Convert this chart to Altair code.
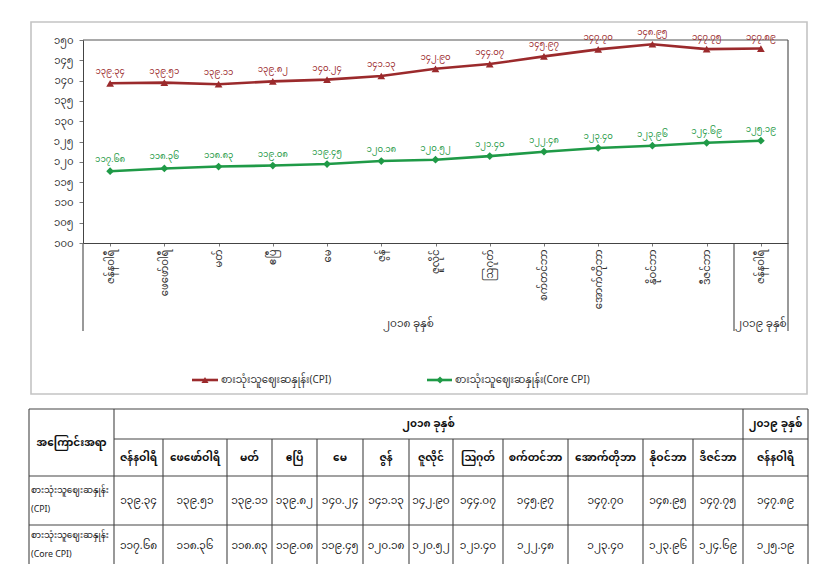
import json
import altair as alt
import pandas as pd

# ---------------- data ----------------
MY = str.maketrans("0123456789", "၀၁၂၃၄၅၆၇၈၉")

months = ["ဇန်နဝါရီ", "ဖေဖော်ဝါရီ", "မတ်", "ဧပြီ", "မေ", "ဇွန်", "ဇူလိုင်",
          "ဩဂုတ်", "စက်တင်ဘာ", "အောက်တိုဘာ", "နိုဝင်ဘာ", "ဒီဇင်ဘာ", "ဇန်နဝါရီ"]
years = ["၂၀၁၈ ခုနှစ်", "၂၀၁၉ ခုနှစ်"]
months_per_year = [12, 1]
cpi = [139.34, 139.51, 139.11, 139.82, 140.24, 141.13, 142.90,
       144.07, 145.97, 147.70, 148.95, 147.75, 147.89]
core = [117.68, 118.36, 118.83, 119.08, 119.45, 120.18, 120.52,
        121.40, 122.48, 123.40, 123.96, 124.69, 125.19]
series_names = ["စားသုံးသူဈေးဆနှုန်း(CPI)", "စားသုံးသူဈေးဆနှုန်း(Core CPI)"]
row_titles = [["စားသုံးသူဈေးဆနှုန်း", "(CPI)"], ["စားသုံးသူဈေးဆနှုန်း", "(Core CPI)"]]
header_title = "အကြောင်းအရာ"
y_ticks = [100, 105, 110, 115, 120, 125, 130, 135, 140, 145, 150]

# ---------------- style / layout ----------------
FONT = "Noto Sans Myanmar, Padauk, Myanmar Text, Noto Sans, DejaVu Sans, sans-serif"
RED = "#9b2a2c"
GREEN = "#1f9a47"
W, H = 840, 564
PX0, PX1, PY0, PY1 = 83, 788, 40, 243     # plot area
DIV_X = 734                               # divider between years
AX_BOTTOM = 331
TBL_LEFT = 29
col_widths = [85, 49, 64, 45, 45, 46, 46, 44, 50, 65, 75, 50, 50, 65]
row_heights = [30, 37, 49, 42]
TBL_TOP = 409

def my(s):
    return str(s).translate(MY)

rows = []
for i in range(len(months)):
    rows.append({"idx": i, "value": cpi[i], "series": series_names[0], "label": my(f"{cpi[i]:.2f}")})
    rows.append({"idx": i, "value": core[i], "series": series_names[1], "label": my(f"{core[i]:.2f}")})
df = pd.DataFrame(rows)

digit_expr = "datum.label"
for d in "0123456789":
    digit_expr = f"replace({digit_expr}, regexp('{d}', 'g'), '{my(d)}')"
month_expr = json.dumps(months, ensure_ascii=False) + "[datum.value]"

x_enc = alt.X(
    "idx:O",
    scale=alt.Scale(type="point", padding=0.5, range=[PX0, PX1]),
    axis=alt.Axis(title=None, orient="bottom", offset=PY1 - H, labelExpr=month_expr,
                  labelAngle=270, labelAlign="right", labelBaseline="middle",
                  labelPadding=3, tickSize=3, domainColor="#444", tickColor="#777",
                  labelFont=FONT, labelFontSize=10, labelColor="#333", grid=False, zindex=2),
)
y_enc = alt.Y(
    "value:Q",
    scale=alt.Scale(domain=[100, 150], range=[PY1, PY0], nice=False, zero=False),
    axis=alt.Axis(title=None, orient="left", offset=-PX0, values=y_ticks, labelExpr=digit_expr,
                  tickSize=4, labelPadding=6, domainColor="#444", tickColor="#777",
                  labelFont=FONT, labelFontSize=10, labelColor="#333", grid=False, zindex=2),
)
color_enc = alt.Color("series:N", scale=alt.Scale(domain=series_names, range=[RED, GREEN]), legend=None)

base = alt.Chart(df)
line = base.mark_line(strokeWidth=2.6).encode(x=x_enc, y=y_enc, color=color_enc)
points = base.mark_point(filled=True, size=60, opacity=1).encode(
    x=x_enc, y=y_enc, color=color_enc,
    shape=alt.Shape("series:N", scale=alt.Scale(domain=series_names, range=["triangle-up", "diamond"]), legend=None),
)
labels = base.mark_text(dy=-12, fontSize=8.5, font=FONT).encode(
    x=x_enc, y=y_enc, color=color_enc, text="label:N")
line_chart = alt.layer(line, points, labels)

# ---------------- segments (frames, table grid) ----------------
col_edges = [TBL_LEFT]
for w in col_widths:
    col_edges.append(col_edges[-1] + w)
row_edges = [TBL_TOP]
for h in row_heights:
    row_edges.append(row_edges[-1] + h)
TBL_BOTTOM = row_edges[-1] + 10

seg = []
seg.append((PX0, PX1, PY0, PY0))
seg.append((PX1, PX1, PY0, AX_BOTTOM))
seg.append((PX0, PX0, PY1, AX_BOTTOM))
seg.append((DIV_X, DIV_X, PY1, AX_BOTTOM))
chart_seg = pd.DataFrame(seg, columns=["x", "x2", "y", "y2"])

tseg = []
full_cols = {0, 1, len(col_edges) - 2, len(col_edges) - 1}
for j, xe in enumerate(col_edges):
    top = row_edges[0] if j in full_cols else row_edges[1]
    tseg.append((xe, xe, top, TBL_BOTTOM))
for i, ye in enumerate(row_edges):
    left = col_edges[1] if i == 1 else col_edges[0]
    tseg.append((left, col_edges[-1], ye, ye))
table_seg = pd.DataFrame(tseg, columns=["x", "x2", "y", "y2"])

def seg_layer(data, color, width):
    return alt.Chart(data).mark_rule(color=color, strokeWidth=width).encode(
        x=alt.X("x:Q", scale=None, axis=None), x2="x2:Q",
        y=alt.Y("y:Q", scale=None, axis=None), y2="y2:Q")

frame = alt.Chart(pd.DataFrame([{"x": 31, "x2": 807, "y": 22, "y2": 394}])).mark_rect(
    fillOpacity=0, stroke="#c4c4c4", strokeWidth=1.6).encode(
    x=alt.X("x:Q", scale=None, axis=None), x2="x2:Q",
    y=alt.Y("y:Q", scale=None, axis=None), y2="y2:Q")

band = (PX1 - PX0) / len(months)
g = []
start = 0
for yname, n in zip(years, months_per_year):
    g.append({"x": PX0 + band * (start + n / 2), "y": 324, "text": yname})
    start += n
group_df = pd.DataFrame(g)

def text_layer(data, **kw):
    return alt.Chart(data).mark_text(font=FONT, **kw).encode(
        x=alt.X("x:Q", scale=None, axis=None), y=alt.Y("y:Q", scale=None, axis=None), text="text:N")

leg = pd.DataFrame([
    {"x": 192, "x2": 218, "y": 380, "y2": 380, "c": RED, "s": "triangle-up", "tx": 221, "text": series_names[0], "mx": 205},
    {"x": 427, "x2": 452, "y": 380, "y2": 380, "c": GREEN, "s": "diamond", "tx": 455, "text": series_names[1], "mx": 440},
])
leg_lines = alt.Chart(leg).mark_rule(strokeWidth=2.6).encode(
    x=alt.X("x:Q", scale=None, axis=None), x2="x2:Q",
    y=alt.Y("y:Q", scale=None, axis=None), y2="y2:Q", color=alt.Color("c:N", scale=None))
leg_pts = alt.Chart(leg).mark_point(filled=True, size=50, opacity=1).encode(
    x=alt.X("mx:Q", scale=None, axis=None), y=alt.Y("y:Q", scale=None, axis=None),
    color=alt.Color("c:N", scale=None), shape=alt.Shape("s:N", scale=None))
leg_txt = alt.Chart(leg).mark_text(font=FONT, fontSize=10, align="left", baseline="middle", color="#333").encode(
    x=alt.X("tx:Q", scale=None, axis=None), y=alt.Y("y:Q", scale=None, axis=None), text="text:N")

# ---------------- table texts ----------------
def cx(j):
    return (col_edges[j] + col_edges[j + 1]) / 2

def cy(i):
    return (row_edges[i] + row_edges[i + 1]) / 2

bold = [{"x": cx(0), "y": (row_edges[0] + row_edges[2]) / 2, "text": header_title}]
bold.append({"x": (col_edges[1] + col_edges[13]) / 2, "y": cy(0), "text": years[0]})
bold.append({"x": cx(13), "y": cy(0), "text": years[1]})
for j, m in enumerate(months):
    bold.append({"x": cx(j + 1), "y": cy(1), "text": m})
bold_df = pd.DataFrame(bold)

vals = []
for j in range(len(months)):
    vals.append({"x": cx(j + 1), "y": cy(2), "text": my(f"{cpi[j]:.2f}")})
    vals.append({"x": cx(j + 1), "y": cy(3), "text": my(f"{core[j]:.2f}")})
vals_df = pd.DataFrame(vals)

rl = []
for i, (a, b) in enumerate(row_titles):
    c = cy(2 + i)
    rl.append({"x": TBL_LEFT + 2, "y": c - 11, "text": a})
    rl.append({"x": TBL_LEFT + 2, "y": c + 8, "text": b})
rl_df = pd.DataFrame(rl)

chart = alt.layer(
    frame,
    seg_layer(chart_seg, "#555", 1.2),
    line_chart,
    text_layer(group_df, fontSize=10.5, align="center", baseline="middle", color="#333"),
    leg_lines, leg_pts, leg_txt,
    seg_layer(table_seg, "#444", 1.1),
    text_layer(bold_df, fontSize=10.5, fontWeight="bold", align="center", baseline="middle", color="#111"),
    text_layer(vals_df, fontSize=10.5, align="center", baseline="middle", color="#222"),
    text_layer(rl_df, fontSize=8.8, align="left", baseline="middle", color="#222"),
).resolve_scale(
    x="independent", y="independent", color="independent", shape="independent"
).properties(
    width=W, height=H, autosize=alt.AutoSizeParams(type="none"), padding=0,
    background="white",
).configure_view(strokeWidth=0)

chart.save("out.html", embed_options={"renderer": "svg", "actions": False})
